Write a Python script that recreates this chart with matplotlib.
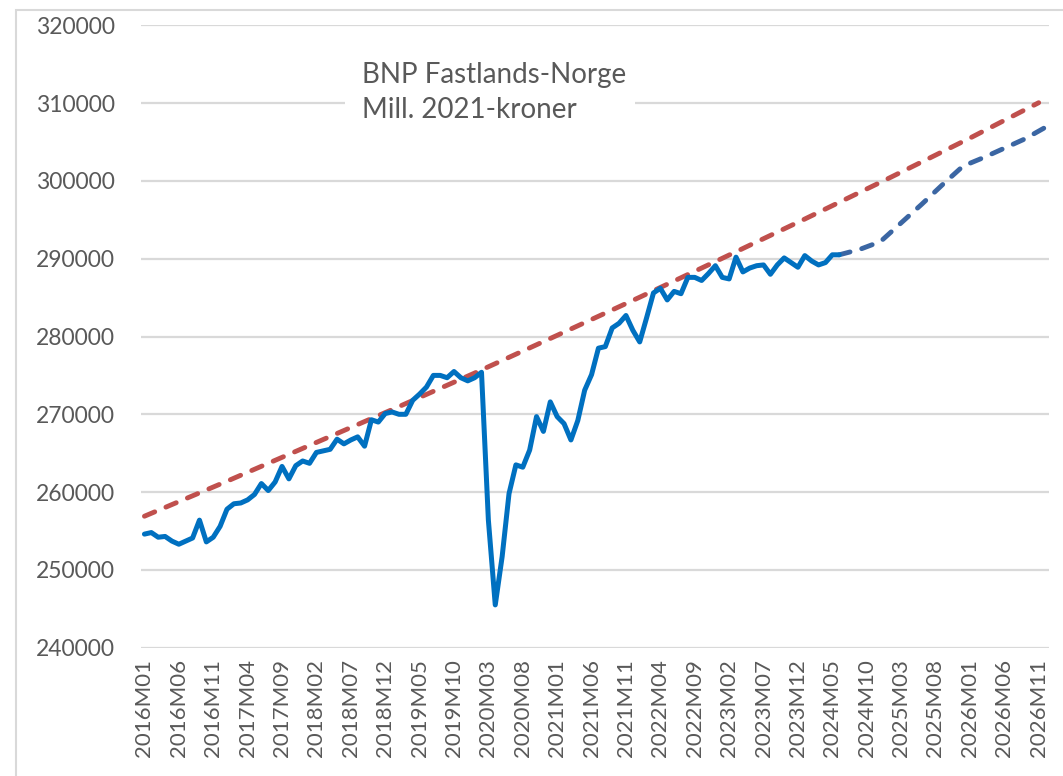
import matplotlib
matplotlib.use("Agg")
import matplotlib.pyplot as plt
from matplotlib.patches import Rectangle

# ---------------- data ----------------
years = list(range(2016, 2027))
months = [f"{y}M{m:02d}" for y in years for m in range(1, 13)]  # 2016M01 .. 2026M12

# Actual monthly GDP Mainland Norway, 2016M01 .. 2024M06 (mill. 2021-kroner)
actual = [
    254600, 254800, 254200, 254300, 253700, 253300, 253700, 254100, 256400, 253600,
    254200, 255600, 257800, 258500, 258600, 259000, 259700, 261100, 260200, 261300,
    263300, 261700, 263400, 264000, 263700, 265100, 265300, 265500, 266800, 266200,
    266700, 267100, 265900, 269300, 269000, 270100, 270300, 270000, 270000, 271800,
    272600, 273500, 275000, 275000, 274700, 275500, 274700, 274300, 274700, 275400,
    256400, 245500, 251700, 259800, 263500, 263200, 265400, 269700, 267800, 271600,
    269700, 268800, 266700, 269200, 273100, 275100, 278500, 278700, 281100, 281700,
    282700, 280800, 279300, 282400, 285600, 286200, 284700, 285800, 285500, 287600,
    287600, 287200, 288100, 289100, 287600, 287400, 290200, 288300, 288800, 289100,
    289200, 288000, 289200, 290100, 289500, 288900, 290400, 289700, 289200, 289500,
    290500, 290500,
]

# Forecast (dashed blue)
forecast_months = ["2024M06", "2024M09", "2024M12", "2025M03", "2025M06", "2025M09",
                   "2025M12", "2026M03", "2026M06", "2026M09", "2026M12"]
forecast = [290500, 291200, 292200, 294600, 297000, 299500,
            301900, 303000, 304200, 305400, 306900]

# Trend (dashed red)
trend_months = ["2016M01", "2017M01", "2018M01", "2019M01", "2020M01", "2021M01",
                "2022M01", "2023M01", "2024M01", "2025M01", "2026M01", "2026M11"]
trend = [256900, 261400, 266000, 270600, 275300, 280150,
         285050, 290050, 295100, 300250, 305500, 310050]

title_lines = ["BNP Fastlands-Norge", "Mill. 2021-kroner"]
y_ticks = list(range(240000, 320001, 10000))
x_tick_step = 5

# ---------------- plot ----------------
plt.rcParams['font.family'] = ['Lato', 'DejaVu Sans']
W, H = 1063, 776
fig = plt.figure(figsize=(W / 100, H / 100), dpi=100)
fig.patch.set_facecolor("white")

# outer chart border
fig.patches.append(Rectangle((16 / W, -0.05), 1.2, 1 - 10 / H + 0.05,
                             transform=fig.transFigure, fill=False,
                             edgecolor="#D9D9D9", linewidth=1.5, zorder=0))

left, right = 141 / W, 1049 / W
bottom, top = 1 - 647.7 / H, 1 - 25.3 / H
ax = fig.add_axes([left, bottom, right - left, top - bottom])

idx = {m: i for i, m in enumerate(months)}
x_act = list(range(len(actual)))
x_fc = [idx[m] for m in forecast_months]
x_tr = [idx[m] for m in trend_months]

grid_c = "#D9D9D9"
for v in y_ticks:
    ax.axhline(v, color=grid_c, linewidth=1.6, zorder=0.5)

ax.plot(x_tr, trend, color="#C0504D", linewidth=3.5, linestyle=(0, (2.3, 2.5)),
        dash_capstyle="round", solid_capstyle="round", zorder=2)
ax.plot(x_fc, forecast, color="#3B66A3", linewidth=3.5, linestyle=(0, (2.3, 2.5)),
        dash_capstyle="round", zorder=3)
ax.plot(x_act, actual, color="#0070C0", linewidth=3.6, solid_capstyle="round",
        solid_joinstyle="round", zorder=4)

ax.set_xlim(-0.5, len(months) - 0.5)
ax.set_ylim(240000, 320000)
ax.set_yticks(y_ticks)
ax.set_yticklabels([str(v) for v in y_ticks])
tick_pos = list(range(0, len(months), x_tick_step))
ax.set_xticks(tick_pos)
ax.set_xticklabels([months[i] for i in tick_pos], rotation=90)

for s in ax.spines.values():
    s.set_visible(False)
ax.tick_params(axis="both", length=0, colors="#595959")
ax.tick_params(axis="y", labelsize=16.5, pad=19)
ax.tick_params(axis="x", labelsize=16, pad=8)

# title with white box
bx0, bx1 = 345, 635
by0, by1 = 52, 130
fig.patches.append(Rectangle((bx0 / W, 1 - by1 / H), (bx1 - bx0) / W, (by1 - by0) / H,
                             transform=fig.transFigure, facecolor="white",
                             edgecolor="none", zorder=1))
fig.text(362 / W, 1 - 75 / H, title_lines[0], fontsize=20, color="#595959",
         va="center", ha="left", zorder=5)
fig.text(362 / W, 1 - 110 / H, title_lines[1], fontsize=20, color="#595959",
         va="center", ha="left", zorder=5)

fig.savefig("out.png", dpi=100)
